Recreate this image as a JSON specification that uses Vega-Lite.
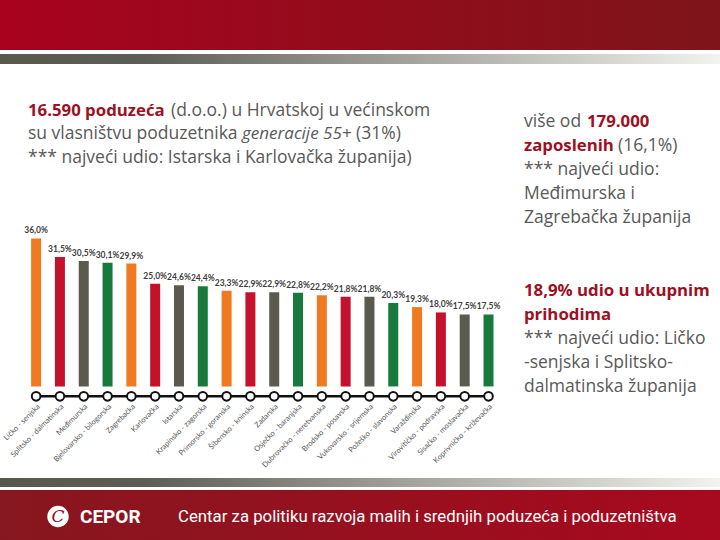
{
  "$schema": "https://vega.github.io/schema/vega-lite/v6.json",
  "background": "white",
  "padding": 0,
  "config": {"view": {"stroke": null}, "font": "Open Sans"},
  "spacing": 0,
  "vconcat": [
    {"width": 720, "height": 50, "data": {"values": [{}]}, "mark": {"type": "point", "size": 0, "opacity": 0},
     "view": {"stroke": null, "fill": {"gradient": "linear", "x1": 0, "y1": 0, "x2": 1, "y2": 0, "stops": [{"offset": 0, "color": "#a8021e"}, {"offset": 1, "color": "#7e151a"}]}}},
    {"width": 720, "height": 4, "data": {"values": [{}]}, "mark": {"type": "point", "size": 0, "opacity": 0}},
    {"width": 720, "height": 10, "data": {"values": [{}]}, "mark": {"type": "point", "size": 0, "opacity": 0},
     "view": {"stroke": null, "fill": {"gradient": "linear", "x1": 0, "y1": 0, "x2": 1, "y2": 0, "stops": [{"offset": 0, "color": "#58584e"}, {"offset": 0.2, "color": "#5e5d55"}, {"offset": 0.6, "color": "#a9a9a2"}, {"offset": 1, "color": "#f2f2ee"}]}}},
    {
      "spacing": 0,
      "hconcat": [
        {
          "bounds": "flush",
          "spacing": 0,
          "vconcat": [
            {"width": 510, "height": 35, "data": {"values": [{}]}, "mark": {"type": "point", "size": 0, "opacity": 0}},
            {
              "width": 510, "height": 70.5,
              "data": {"values": [
                {"line": 0, "part": 0, "kind": "highlight", "text": "16.590 poduzeća"},
                {"line": 0, "part": 1, "kind": "plain", "text": "(d.o.o.) u Hrvatskoj u većinskom"},
                {"line": 1, "part": 0, "kind": "plain", "text": "su vlasništvu poduzetnika"},
                {"line": 1, "part": 1, "kind": "emphasis", "text": "generacije 55+"},
                {"line": 1, "part": 2, "kind": "plain", "text": "(31%)"},
                {"line": 2, "part": 0, "kind": "plain", "text": "*** najveći udio: Istarska i Karlovačka županija)"}
              ]},
              "encoding": {
                "x": {"datum": 0, "type": "quantitative", "scale": {"domain": [0, 1]}, "axis": null},
                "y": {"field": "line", "type": "ordinal", "scale": {"type": "point", "padding": 0.5, "domain": [0, 1, 2]}, "axis": null},
                "text": {"field": "text"}
              },
              "layer": [
                {"transform": [{"filter": "datum.part == 0 && datum.kind == 'plain'"}],
                 "mark": {"type": "text", "align": "left", "baseline": "middle", "dx": 28, "fontSize": 17.5, "color": "#595959"}},
                {"transform": [{"filter": "datum.part == 0 && datum.kind == 'highlight'"}],
                 "mark": {"type": "text", "align": "left", "baseline": "middle", "dx": 28, "fontSize": 16.8, "fontWeight": "bold", "color": "#9e0f1f"}},
                {"transform": [{"filter": "datum.line == 0 && datum.part == 1"}],
                 "mark": {"type": "text", "align": "left", "baseline": "middle", "dx": 171, "fontSize": 17.5, "color": "#595959"}},
                {"transform": [{"filter": "datum.line == 1 && datum.part == 1"}],
                 "mark": {"type": "text", "align": "left", "baseline": "middle", "dx": 242, "fontSize": 17, "fontStyle": "italic", "color": "#595959"}},
                {"transform": [{"filter": "datum.line == 1 && datum.part == 2"}],
                 "mark": {"type": "text", "align": "left", "baseline": "middle", "dx": 356, "fontSize": 17.5, "color": "#595959"}}
              ]
            },
            {"width": 510, "height": 51.1, "data": {"values": [{}]}, "mark": {"type": "point", "size": 0, "opacity": 0}},
            {
              "width": 510, "height": 174.3,
              "data": {"values": [
                {"region": "Ličko - senjska", "share": 36.0},
                {"region": "Splitsko - dalmatinska", "share": 31.5},
                {"region": "Međimurska", "share": 30.5},
                {"region": "Bjelovarsko - bilogorska", "share": 30.1},
                {"region": "Zagrebačka", "share": 29.9},
                {"region": "Karlovačka", "share": 25.0},
                {"region": "Istarska", "share": 24.6},
                {"region": "Krapinsko - zagorska", "share": 24.4},
                {"region": "Primorsko - goranska", "share": 23.3},
                {"region": "Šibensko - kninska", "share": 22.9},
                {"region": "Zadarska", "share": 22.9},
                {"region": "Osječko - baranjska", "share": 22.8},
                {"region": "Dubrovačko - neretvanska", "share": 22.2},
                {"region": "Brodsko - posavska", "share": 21.8},
                {"region": "Vukovarsko - srijemska", "share": 21.8},
                {"region": "Požeško - slavonska", "share": 20.3},
                {"region": "Varaždinska", "share": 19.3},
                {"region": "Virovitičko - podravska", "share": 18.0},
                {"region": "Sisačko - moslavačka", "share": 17.5},
                {"region": "Koprivničko - križevačka", "share": 17.5}
              ]},
              "transform": [
                {"window": [{"op": "row_number", "as": "idx"}]},
                {"calculate": "(datum.idx - 1) % 4", "as": "cyc"},
                {"calculate": "replace(format(datum.share, '.1f'), '.', ',') + '%'", "as": "label"}
              ],
              "encoding": {
                "x": {"field": "region", "type": "nominal", "sort": null,
                      "scale": {"paddingInner": 0.58, "paddingOuter": 1.1045, "align": 0.6536},
                      "axis": {"title": null, "labelAngle": -45, "domain": false, "ticks": false, "labelFontSize": 7.5, "labelColor": "#555555", "labelPadding": 6, "labelFont": "Lato"}}
              },
              "layer": [
                {"mark": {"type": "bar"},
                 "encoding": {
                   "y": {"field": "share", "type": "quantitative", "scale": {"domain": [-2.4, 40], "zero": false, "nice": false}, "axis": null},
                   "y2": {"datum": 0},
                   "color": {"field": "cyc", "type": "nominal", "scale": {"domain": [0, 1, 2, 3], "range": ["#f07a22", "#c4122c", "#5a5a4e", "#17793c"]}, "legend": null}
                 }},
                {"mark": {"type": "text", "dy": -8, "baseline": "middle", "font": "Lato", "fontSize": 8.5, "fontWeight": "bold", "color": "#404040"},
                 "encoding": {"y": {"field": "share", "type": "quantitative"}, "text": {"field": "label"}}},
                {"mark": {"type": "line", "color": "#111111", "strokeWidth": 2.5},
                 "encoding": {"y": {"datum": -2.4}}},
                {"mark": {"type": "point", "filled": true, "fill": "white", "stroke": "#111111", "strokeWidth": 2, "size": 75, "opacity": 1},
                 "encoding": {"y": {"datum": -2.4}}}
              ]
            },
            {"width": 510, "height": 80.1, "data": {"values": [{}]}, "mark": {"type": "point", "size": 0, "opacity": 0}}
          ]
        },
        {
          "bounds": "flush",
          "spacing": 0,
          "vconcat": [
            {"width": 210, "height": 45.5, "data": {"values": [{}]}, "mark": {"type": "point", "size": 0, "opacity": 0}},
            {
              "width": 210, "height": 289,
              "data": {"values": [
                {"line": 0, "part": 0, "kind": "plain", "text": "više od"},
                {"line": 0, "part": 1, "kind": "highlight", "text": "179.000"},
                {"line": 1, "part": 0, "kind": "highlight", "text": "zaposlenih"},
                {"line": 1, "part": 1, "kind": "plain", "text": "(16,1%)"},
                {"line": 2, "part": 0, "kind": "plain", "text": "*** najveći udio:"},
                {"line": 3, "part": 0, "kind": "plain", "text": "Međimurska i"},
                {"line": 4, "part": 0, "kind": "plain", "text": "Zagrebačka županija"},
                {"line": 7, "part": 0, "kind": "highlight", "text": "18,9% udio u ukupnim"},
                {"line": 8, "part": 0, "kind": "highlight", "text": "prihodima"},
                {"line": 9, "part": 0, "kind": "plain", "text": "*** najveći udio: Ličko"},
                {"line": 10, "part": 0, "kind": "plain", "text": "-senjska i Splitsko-"},
                {"line": 11, "part": 0, "kind": "plain", "text": "dalmatinska županija"}
              ]},
              "encoding": {
                "x": {"datum": 0, "type": "quantitative", "scale": {"domain": [0, 1]}, "axis": null},
                "y": {"field": "line", "type": "ordinal", "scale": {"type": "point", "padding": 0.5, "domain": [0, 1, 2, 3, 4, 5, 6, 7, 8, 9, 10, 11]}, "axis": null},
                "text": {"field": "text"}
              },
              "layer": [
                {"transform": [{"filter": "datum.part == 0 && datum.kind == 'plain'"}],
                 "mark": {"type": "text", "align": "left", "baseline": "middle", "dx": 14, "fontSize": 17.5, "color": "#595959"}},
                {"transform": [{"filter": "datum.part == 0 && datum.kind == 'highlight'"}],
                 "mark": {"type": "text", "align": "left", "baseline": "middle", "dx": 14, "fontSize": 16.8, "fontWeight": "bold", "color": "#9e0f1f"}},
                {"transform": [{"filter": "datum.line == 0 && datum.part == 1"}],
                 "mark": {"type": "text", "align": "left", "baseline": "middle", "dx": 77, "fontSize": 16.8, "fontWeight": "bold", "color": "#9e0f1f"}},
                {"transform": [{"filter": "datum.line == 1 && datum.part == 1"}],
                 "mark": {"type": "text", "align": "left", "baseline": "middle", "dx": 108, "fontSize": 17.5, "color": "#595959"}}
              ]
            },
            {"width": 210, "height": 76.5, "data": {"values": [{}]}, "mark": {"type": "point", "size": 0, "opacity": 0}}
          ]
        }
      ]
    },
    {"width": 720, "height": 9, "data": {"values": [{}]}, "mark": {"type": "point", "size": 0, "opacity": 0},
     "view": {"stroke": null, "fill": {"gradient": "linear", "x1": 0, "y1": 0, "x2": 1, "y2": 0, "stops": [{"offset": 0, "color": "#58584e"}, {"offset": 0.2, "color": "#5e5d55"}, {"offset": 0.6, "color": "#a9a9a2"}, {"offset": 1, "color": "#f2f2ee"}]}}},
    {"width": 720, "height": 3, "data": {"values": [{}]}, "mark": {"type": "point", "size": 0, "opacity": 0}},
    {
      "bounds": "flush",
      "spacing": 0,
      "hconcat": [
        {"width": 40, "height": 53, "data": {"values": [{}]}, "mark": {"type": "point", "size": 0, "opacity": 0},
         "view": {"stroke": null, "fill": {"gradient": "linear", "x1": 0, "y1": 0, "x2": 1, "y2": 0, "stops": [{"offset": 0, "color": "#861720"}, {"offset": 1, "color": "#88161f"}]}}},
        {"width": 36, "height": 53, "data": {"values": [{"logo": "C"}]},
         "view": {"stroke": null, "fill": {"gradient": "linear", "x1": 0, "y1": 0, "x2": 1, "y2": 0, "stops": [{"offset": 0, "color": "#88161f"}, {"offset": 1, "color": "#8a151f"}]}},
         "layer": [
           {"mark": {"type": "point", "shape": "circle", "filled": true, "color": "white", "size": 460, "opacity": 1}, "encoding": {}},
           {"mark": {"type": "text", "font": "DejaVu Serif", "fontStyle": "italic", "fontSize": 17, "color": "#8a1520", "baseline": "middle"}, "encoding": {"text": {"field": "logo"}}}
         ]},
        {"width": 100, "height": 53, "data": {"values": [{"t": "CEPOR"}]},
         "view": {"stroke": null, "fill": {"gradient": "linear", "x1": 0, "y1": 0, "x2": 1, "y2": 0, "stops": [{"offset": 0, "color": "#8a151f"}, {"offset": 1, "color": "#8e141f"}]}},
         "mark": {"type": "text", "font": "Roboto", "fontWeight": "bold", "fontSize": 19, "color": "white", "baseline": "middle", "align": "left", "dx": 4},
         "encoding": {"x": {"datum": 0, "type": "quantitative", "scale": {"domain": [0, 1]}, "axis": null}, "text": {"field": "t"}}},
        {"width": 544, "height": 53, "data": {"values": [{"t": "Centar za politiku razvoja malih i srednjih poduzeća i poduzetništva"}]},
         "view": {"stroke": null, "fill": {"gradient": "linear", "x1": 0, "y1": 0, "x2": 1, "y2": 0, "stops": [{"offset": 0, "color": "#8e141f"}, {"offset": 1, "color": "#a8091f"}]}},
         "mark": {"type": "text", "font": "Roboto", "fontSize": 16.8, "color": "white", "baseline": "middle", "align": "left", "dx": 2},
         "encoding": {"x": {"datum": 0, "type": "quantitative", "scale": {"domain": [0, 1]}, "axis": null}, "text": {"field": "t"}}}
      ]
    }
  ]
}
